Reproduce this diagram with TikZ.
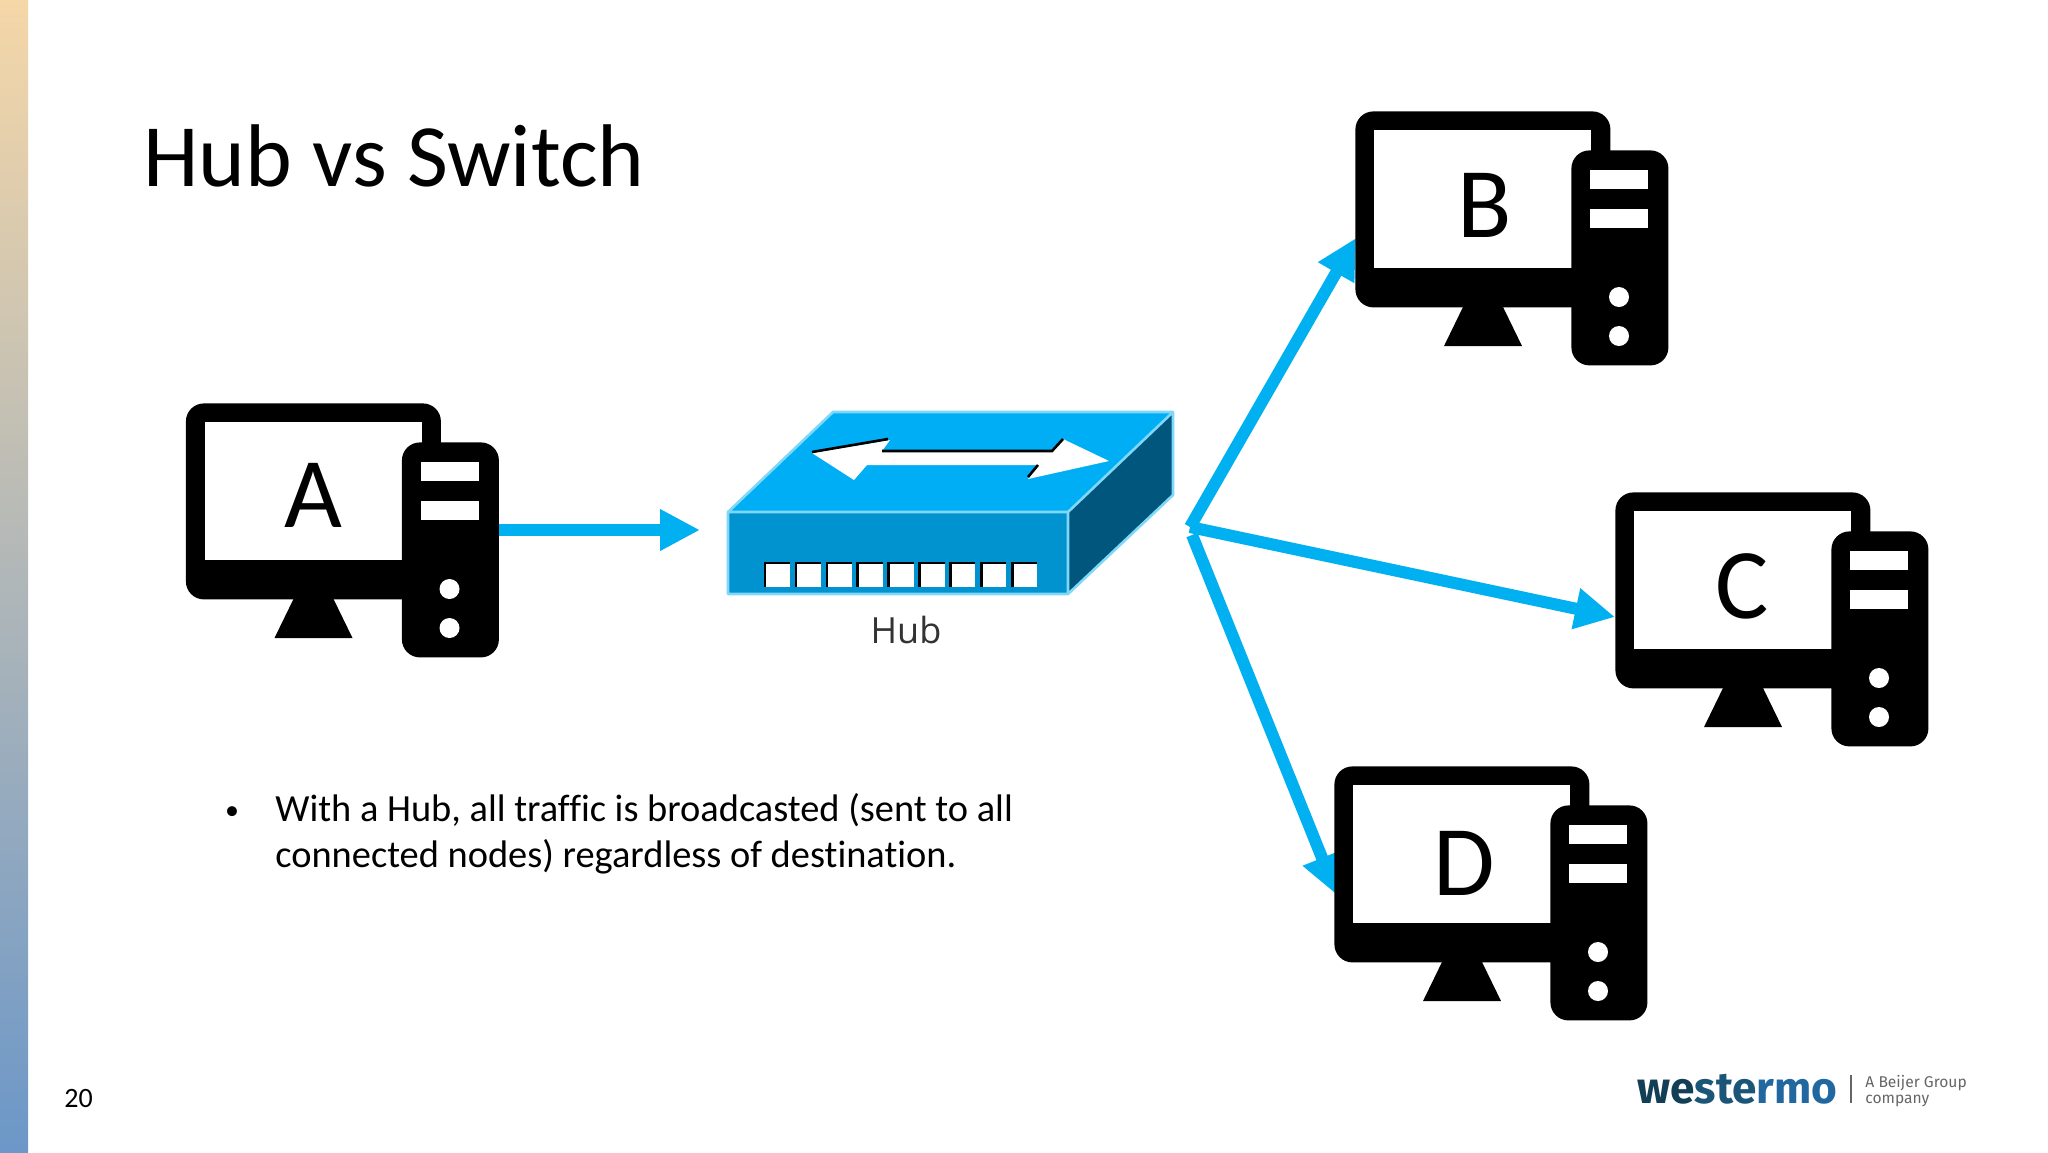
\documentclass[tikz,border=0pt]{standalone}
\usepackage{fontspec}
\setmainfont{Carlito}[Ligatures=NoCommon]
\newfontfamily\hubfont{Open Sans}
\newfontfamily\logofont{Fira Sans}[UprightFont=* Bold]
\newfontfamily\logosub{Fira Sans}
\usetikzlibrary{arrows.meta,calc}
\definecolor{linkblue}{HTML}{00B0F0}
\definecolor{hubtop}{HTML}{00AEF5}
\definecolor{hubfront}{HTML}{0093D0}
\definecolor{hubside}{HTML}{00567D}
\definecolor{hubedge}{HTML}{80D8F8}
\definecolor{logoA}{HTML}{123F55}
\definecolor{logoB}{HTML}{1B5578}
\definecolor{logoC}{HTML}{2268A0}
\definecolor{stripT}{HTML}{F5D7A8}
\definecolor{stripM}{HTML}{C4BDB4}
\definecolor{stripB}{HTML}{6C97C8}
\tikzset{
  x=0.5pt,y=-0.5pt,
  link/.style={draw=linkblue,line width=6pt,-{Triangle[length=20pt,width=19.5pt]}},
  letter/.style={font=\fontsize{50}{50}\selectfont,text=black,inner sep=0pt,anchor=center},
  pics/computer/.style n args={4}{code={
    \node[fill=black,rounded corners=9pt,minimum width=127.5pt,minimum height=98pt,inner sep=0pt,anchor=north west] (#1mon) at (0,0) {};
    \fill[white] (19,19) rectangle (236,157);
    \fill[black] (108,196) -- (148,196) -- (167,235) -- (89,235) -- cycle;
    \node[fill=black,rounded corners=9pt,minimum width=48.5pt,minimum height=107.5pt,inner sep=0pt,anchor=north west] (#1tow) at (216,39) {};
    \fill[white] (235,59) rectangle (293,78);
    \fill[white] (235,98) rectangle (293,117);
    \fill[white] (264,186) circle (10);
    \fill[white] (264,225) circle (10);
    \node[letter] (#1txt) at (#3,#4) {#2};
  }},
}
\newcommand{\hubport}[1]{%
  \fill[white] (#1,562) rectangle ++(26,25);
  \draw[black,line width=1.3pt] (#1+1,587) -- (#1+1,563) -- (#1+26,563);
}
\begin{document}
\begin{tikzpicture}
\useasboundingbox (0,0) rectangle (2048,1152);
\fill[white] (0,0) rectangle (2048,1152);
% left strip
\fill[top color=stripT,middle color=stripM,bottom color=stripB] (0,0) rectangle (28,1152);
% title
\node[anchor=base west,inner sep=0pt,font=\fontsize{44.5}{44.5}\selectfont] (title) at (143,186.5) {Hub vs Switch};
% hub
\fill[hubtop] (833,412) -- (1173,412) -- (1068,512) -- (728,512) -- cycle;
\fill[hubfront] (728,512) rectangle (1068,594);
\fill[hubside] (1068,512) -- (1173,412) -- (1173,495) -- (1068,594) -- cycle;
\draw[hubedge,line width=1.3pt,line join=round] (728,512) -- (833,412) -- (1173,412) -- (1173,495) -- (1068,594) -- (728,594) -- cycle (728,512) -- (1068,512) -- (1173,412) (1068,512) -- (1068,594);
\fill[white] (812,453) -- (890,440) -- (882,451) -- (1052,451) -- (1063,439) -- (1109,461) -- (1028,479) -- (1038,465) -- (867,465) -- (854,480) -- cycle;
\draw[black,line width=1.3pt] (812,452) -- (888,439);
\draw[black,line width=1.3pt] (882,451) -- (1052,451) -- (1063,439);
\draw[black,line width=1.3pt] (1028,477) -- (1038,465);
\foreach \i in {0,...,8}{\pgfmathsetmacro{\xp}{764+30.9*\i}\hubport{\xp}}
\coordinate (hubin) at (700,530);
\coordinate (hubout) at (1190,527);
\coordinate (hubout2) at (1192,535);
\node[anchor=base,inner sep=0pt,font=\hubfont\fontsize{18}{18}\selectfont,text=black!80] (hublabel) at (906,643) {Hub};
% arrow tips
\coordinate (Bin) at (1356,238);
\coordinate (Cin) at (1615,617);
\coordinate (Din) at (1337,895);
% arrows below the computers
\draw[link] (hubout) -- (Bin);
\draw[link] (hubout) -- (Cin);
\draw[link] (hubout2) -- (Din);
\pic at (185.5,403) {computer={A}{A}{127.5}{92}};
\pic at (1355,111) {computer={B}{B}{130}{94}};
\pic at (1615,492) {computer={C}{C}{127.5}{94}};
\pic at (1334,766) {computer={D}{D}{130}{97}};
\draw[link] (Atow.east |- hubin) -- (hubin);
% bullet text
\node[anchor=base,inner sep=0pt,font=\fontsize{14}{14}\selectfont] (bullet) at (232,819) {•};
\node[anchor=base west,inner sep=0pt,font=\fontsize{19.2}{19.2}\selectfont] (line1) at (275,821) {With a Hub, all traffic is broadcasted (sent to all};
\node[anchor=base west,inner sep=0pt,font=\fontsize{19.2}{19.2}\selectfont] (line2) at (275,867) {connected nodes) regardless of destination.};
% page number
\node[anchor=base west,inner sep=0pt,font=\fontsize{14}{14}\selectfont] (page) at (64,1107) {20};
% logo
\node[anchor=base west,inner sep=0pt] (logo) at (1637,1103) {\resizebox{100pt}{!}{\logofont\textcolor{logoA}{we}\textcolor{logoB}{ste}\textcolor{logoC}{rmo}}};
\fill[black!60] (1850,1075) rectangle (1852,1103);
\node[anchor=base west,inner sep=0pt,font=\logosub\fontsize{7.8}{7.8}\selectfont,text=black!60] (logo1) at (1865,1087) {A Beijer Group};
\node[anchor=base west,inner sep=0pt,font=\logosub\fontsize{7.8}{7.8}\selectfont,text=black!60] (logo2) at (1865,1103) {company};
\end{tikzpicture}
\end{document}
